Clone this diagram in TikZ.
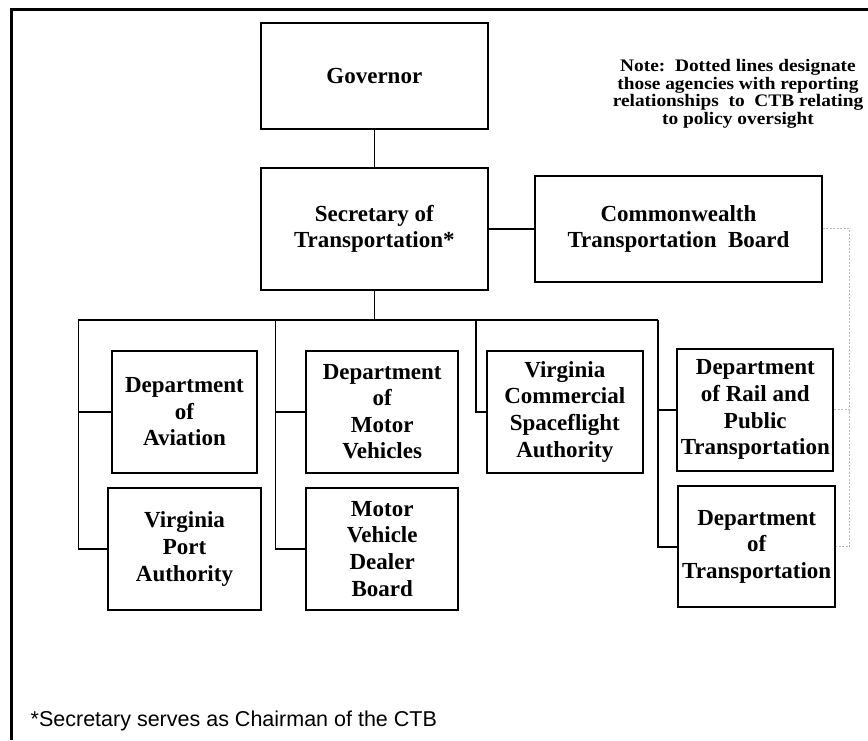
\documentclass[tikz,border=0pt]{standalone}
\usepackage{fontspec}
\newfontfamily\footfont{Liberation Sans}
\newfontfamily\officefont{Liberation Serif}
\newfontfamily\notefont[FakeStretch=1.1]{Liberation Serif}
\tikzset{
    Office/.style = {draw,line width=1.8pt,align=center,inner sep=0pt,
        font=\officefont\bfseries\fontsize{23}{26.6}\selectfont},
    Link/.style = {line width=1.6pt},
    Oversight/.style = {gray!55,line width=0.7pt,dash pattern=on 2pt off 1.5pt}
}
\begin{document}
\begin{tikzpicture}[x=1pt,y=-1pt]
        \useasboundingbox (0,0) rectangle (868,740);
        \draw[line width=2.5pt] (868,9.5) -- (11.5,9.5) -- (11.5,740);
        \node[Office,minimum width=227pt,minimum height=106pt] (Gov) at (374.3,76) {Governor};
        \node[Office,minimum width=227pt,minimum height=122pt] (Sec) at (374.3,228.8) {Secretary of\\Transportation*};
        \node[Office,minimum width=287pt,minimum height=106pt] (CTB) at (678.5,228.8) {Commonwealth\\Transportation\ \ Board};
        \node[Office,minimum width=145pt,minimum height=122pt] (Av) at (184.5,411.7) {Department\\of\\Aviation};
        \node[Office,minimum width=153pt,minimum height=122pt] (VPA) at (184.5,549) {Virginia\\Port\\Authority};
        \node[Office,minimum width=152pt,minimum height=122pt] (DMV) at (382.2,411.7) {Department\\of\\Motor\\Vehicles};
        \node[Office,minimum width=152pt,minimum height=122pt] (MVDB) at (382.2,548.8) {Motor\\Vehicle\\Dealer\\Board};
        \node[Office,minimum width=156pt,minimum height=122pt] (VCSA) at (564.8,411.7) {Virginia\\Commercial\\Spaceflight\\Authority};
        \node[Office,minimum width=156pt,minimum height=122pt] (DRPT) at (755.3,409.8) {Department\\of Rail and\\Public\\Transportation};
        \node[Office,minimum width=157pt,minimum height=121pt] (DOT) at (756.7,546.7) {Department\\of\\Transportation};
        % bus under the secretary
        \coordinate (B1) at (78.3,320);
        \coordinate (B2) at (275.5,320);
        \coordinate (B3) at (476,320);
        \coordinate (B4) at (658,320);
        \draw[Link] (Gov) -- (Sec);
        \draw[Link] (Sec.east) -- (CTB.west);
        \draw[Link] (Sec.south) -- (Sec.south |- B1);
        \draw[Link] (B1) -- (B4);
        \foreach \A/\B in {B1/Av,B1/VPA,B2/DMV,B2/MVDB,B3/VCSA,B4/DRPT,B4/DOT}
            {\draw[Link] (\A) |- (\B.west);}
        % policy oversight
        \coordinate (R) at (849.5,228.8);
        \draw[Oversight] (CTB.east) -| (R |- DOT.east) -- (DOT.east);
        \draw[Oversight] (DRPT.east) -- (R |- DRPT.east);
        \node[font=\notefont\bfseries\fontsize{17.6}{17.5}\selectfont,align=center] (Note) at (738,94)
            {Note:\ \ Dotted lines designate\\those agencies with reporting\\relationships\ \ to\ \ CTB relating\\to policy oversight};
        \node[font=\footfont\fontsize{21.5}{24}\selectfont,anchor=base west,inner sep=0pt] (Foot) at (30.5,726)
            {*Secretary serves as Chairman of the CTB};
\end{tikzpicture}
\end{document}
